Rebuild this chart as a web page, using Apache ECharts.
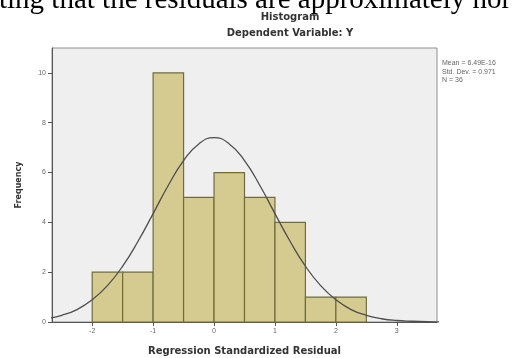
<!DOCTYPE html>
<html>
<head>
<meta charset="utf-8">
<script src="https://cdn.jsdelivr.net/npm/echarts@6/dist/echarts.min.js"></script>
<style>
  html, body { margin: 0; padding: 0; background: #ffffff; }
  #chart { width: 518px; height: 358px; }
</style>
</head>
<body>
<div id="chart"></div>
<script>
// Histogram bins of the regression standardized residuals (bin width 0.5)
const binStarts = [-2, -1.5, -1, -0.5, 0, 0.5, 1, 1.5, 2];
const binWidth = 0.5;
const frequencies = [2, 2, 10, 5, 6, 5, 4, 1, 1];

// Overlaid normal curve, sampled every 0.25
const curveX = [-2.75, -2.5, -2.25, -2, -1.75, -1.5, -1.25, -1, -0.75, -0.5, -0.25, 0,
                0.25, 0.5, 0.75, 1, 1.25, 1.5, 1.75, 2, 2.25, 2.5, 2.75, 3, 3.25, 3.5, 3.75];
const curveY = [0.13, 0.27, 0.50, 0.89, 1.46, 2.24, 3.23, 4.35, 5.49, 6.48, 7.15, 7.40,
                7.15, 6.48, 5.49, 4.35, 3.23, 2.24, 1.46, 0.89, 0.50, 0.27, 0.13, 0.06, 0.03, 0.01, 0.00];

// Axis ticks
const xTicks = [-2, -1, 0, 1, 2, 3];
const yTicks = [0, 2, 4, 6, 8, 10];

// Summary statistics box
const statsLines = ['Mean = 6.49E-16', 'Std. Dev. = 0.971', 'N = 36'];

const chart = echarts.init(document.getElementById('chart'), null, { renderer: 'canvas' });

const barData = binStarts.map((s, i) => [s, s + binWidth, frequencies[i]]);
const lineData = curveX.map((x, i) => [x, curveY[i]]);

const boldFont = 'DejaVu Sans';

chart.setOption({
  animation: false,
  backgroundColor: '#ffffff',
  grid: {
    left: 52, top: 48, right: 81, bottom: 36,
    outerBoundsMode: 'none',
    show: true,
    backgroundColor: '#efefef',
    borderColor: '#8e8e8e',
    borderWidth: 1
  },
  graphic: [
    {
      type: 'text', left: -1, top: -14,
      style: {
        text: 'ting that the residuals are approximately nor',
        font: '29px "Liberation Serif"', fill: '#000000'
      }
    },
    {
      type: 'text', x: 290, y: 17,
      style: {
        text: 'Histogram', font: 'bold 10px "' + boldFont + '"',
        fill: '#333333', align: 'center', verticalAlign: 'middle'
      }
    },
    {
      type: 'text', x: 290, y: 33,
      style: {
        text: 'Dependent Variable: Y', font: 'bold 10px "' + boldFont + '"',
        fill: '#333333', align: 'center', verticalAlign: 'middle'
      }
    },
    {
      type: 'text', x: 442, y: 59,
      style: {
        text: statsLines.join('\n'), font: '7px "Liberation Sans"',
        fill: '#666666', lineHeight: 8.5
      }
    }
  ],
  xAxis: {
    type: 'value',
    min: -2.66, max: 3.66,
    name: 'Regression Standardized Residual',
    nameLocation: 'middle',
    nameGap: 24,
    nameTextStyle: { fontFamily: boldFont, fontWeight: 'bold', fontSize: 10, color: '#333333' },
    axisLine: { show: true, onZero: false, lineStyle: { color: '#555555', width: 1 } },
    axisTick: { show: true, length: 4, customValues: xTicks, lineStyle: { color: '#555555' } },
    axisLabel: { customValues: xTicks, fontSize: 7, color: '#666666', margin: 6,
                 fontFamily: 'Liberation Sans' },
    splitLine: { show: false }
  },
  yAxis: {
    type: 'value',
    min: 0, max: 11,
    name: 'Frequency',
    nameLocation: 'middle',
    nameGap: 29,
    nameTextStyle: { fontFamily: boldFont, fontWeight: 'bold', fontSize: 8, color: '#333333' },
    axisLine: { show: true, onZero: false, lineStyle: { color: '#555555', width: 1 } },
    axisTick: { show: true, length: 4, customValues: yTicks, lineStyle: { color: '#555555' } },
    axisLabel: { customValues: yTicks, fontSize: 7, color: '#666666', margin: 6,
                 fontFamily: 'Liberation Sans' },
    splitLine: { show: false }
  },
  series: [
    {
      type: 'custom',
      data: barData,
      renderItem: function (params, api) {
        const p0 = api.coord([api.value(0), 0]);
        const p1 = api.coord([api.value(1), api.value(2)]);
        return {
          type: 'rect',
          shape: { x: p0[0], y: p1[1], width: p1[0] - p0[0], height: p0[1] - p1[1] },
          style: { fill: '#d5cb91', stroke: '#6f6c3e', lineWidth: 1.2 }
        };
      },
      encode: { x: [0, 1], y: 2 },
      z: 2
    },
    {
      type: 'line',
      data: lineData,
      smooth: true,
      symbol: 'none',
      clip: true,
      lineStyle: { color: '#4d4d4d', width: 1.3 },
      z: 3
    }
  ]
});
</script>
</body>
</html>
